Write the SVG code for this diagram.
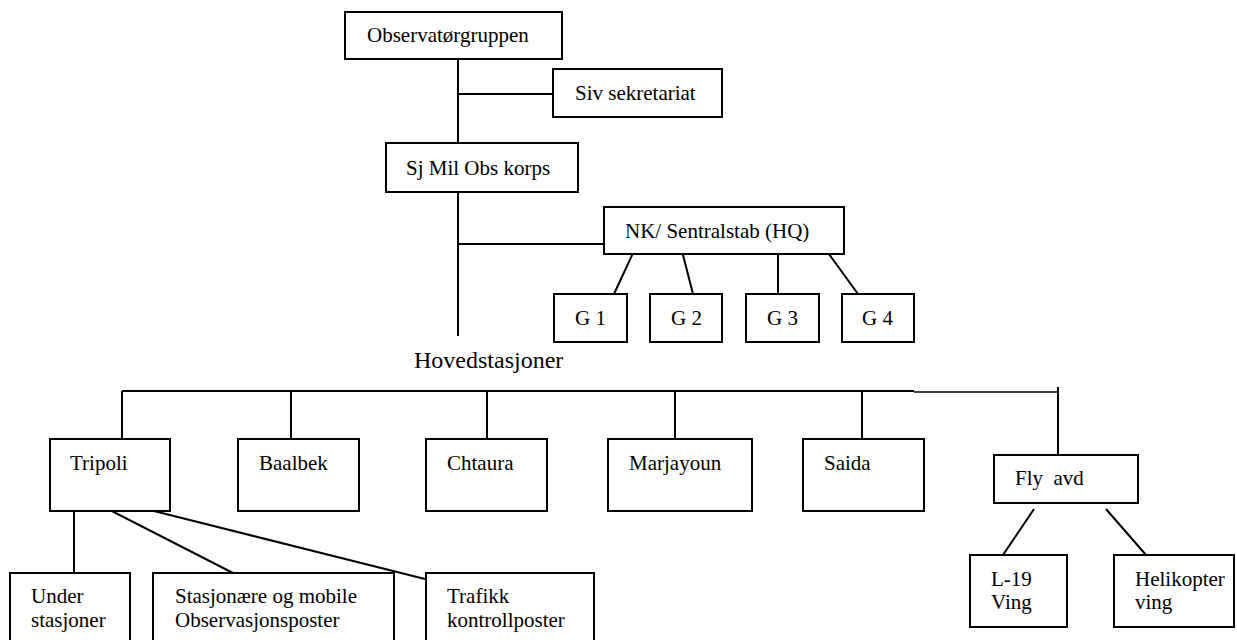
<svg xmlns="http://www.w3.org/2000/svg" width="1237" height="640" viewBox="0 0 1237 640">
<style>
rect{fill:#fff;stroke:#000;stroke-width:2}
line{stroke:#000;stroke-width:2}
text{font-family:"Liberation Serif","Times New Roman",serif;font-size:21px;fill:#000}
.big{font-size:24px}
</style>
<rect x="0" y="0" width="1237" height="640" style="stroke:none"/>
<g id="connectors">
<line x1="458" y1="48" x2="458" y2="143"/>
<line x1="458" y1="94" x2="553" y2="94"/>
<line x1="458" y1="192" x2="458" y2="336"/>
<line x1="458" y1="244" x2="604" y2="244"/>
<line x1="634" y1="251" x2="614" y2="294"/>
<line x1="682" y1="251" x2="693" y2="294"/>
<line x1="778" y1="251" x2="778" y2="296"/>
<line x1="826" y1="250" x2="858" y2="294"/>
<line x1="122" y1="391" x2="914" y2="391"/>
<line x1="914" y1="392" x2="1058" y2="392" style="stroke-width:1.5"/>
<line x1="122" y1="391" x2="122" y2="439"/>
<line x1="291" y1="391" x2="291" y2="439"/>
<line x1="487" y1="391" x2="487" y2="439"/>
<line x1="675" y1="391" x2="675" y2="439"/>
<line x1="862" y1="391" x2="862" y2="439"/>
<line x1="1058" y1="387" x2="1058" y2="455"/>
<line x1="74" y1="508" x2="74" y2="573"/>
<line x1="106" y1="508" x2="233" y2="573"/>
<line x1="138" y1="507" x2="425" y2="579"/>
<line x1="1034" y1="509" x2="1003" y2="555"/>
<line x1="1106" y1="509" x2="1146" y2="555"/>
</g>
<g id="observatorgruppen"><rect x="345" y="12" width="217" height="47"/><text x="367" y="42">Observatørgruppen</text></g>
<g id="siv"><rect x="553" y="69" width="169" height="48"/><text x="575" y="100">Siv sekretariat</text></g>
<g id="sjmil"><rect x="386" y="143" width="192" height="49"/><text x="406" y="175">Sj Mil Obs korps</text></g>
<g id="nk"><rect x="604" y="207" width="240" height="47"/><text x="625" y="238">NK/ Sentralstab (HQ)</text></g>
<g id="g1"><rect x="554" y="294" width="73" height="48"/><text x="575" y="325">G 1</text></g>
<g id="g2"><rect x="650" y="294" width="72" height="48"/><text x="671" y="325">G 2</text></g>
<g id="g3"><rect x="746" y="294" width="73" height="48"/><text x="767" y="325">G 3</text></g>
<g id="g4"><rect x="842" y="294" width="72" height="48"/><text x="862" y="325">G 4</text></g>
<g id="hovedstasjoner"><text class="big" x="414" y="368">Hovedstasjoner</text></g>
<g id="tripoli"><rect x="50" y="439" width="120" height="72"/><text x="70" y="470">Tripoli</text></g>
<g id="baalbek"><rect x="238" y="439" width="121" height="72"/><text x="259" y="470">Baalbek</text></g>
<g id="chtaura"><rect x="426" y="439" width="121" height="72"/><text x="447" y="470">Chtaura</text></g>
<g id="marjayoun"><rect x="608" y="439" width="144" height="72"/><text x="629" y="470">Marjayoun</text></g>
<g id="saida"><rect x="803" y="439" width="121" height="72"/><text x="824" y="470">Saida</text></g>
<g id="flyavd"><rect x="994" y="455" width="144" height="48"/><text x="1015" y="485" xml:space="preserve">Fly  avd</text></g>
<g id="under"><rect x="10" y="573" width="120" height="80"/><text x="31" y="603">Under</text><text x="31" y="627">stasjoner</text></g>
<g id="stasjonare"><rect x="153" y="573" width="241" height="80"/><text x="175" y="603">Stasjonære og mobile</text><text x="175" y="627">Observasjonsposter</text></g>
<g id="trafikk"><rect x="426" y="573" width="168" height="80"/><text x="447" y="603">Trafikk</text><text x="447" y="627">kontrollposter</text></g>
<g id="l19"><rect x="970" y="555" width="97" height="72"/><text x="991" y="586">L-19</text><text x="991" y="609">Ving</text></g>
<g id="helikopter"><rect x="1114" y="555" width="120" height="72"/><text x="1135" y="586">Helikopter</text><text x="1135" y="609">ving</text></g>
</svg>
